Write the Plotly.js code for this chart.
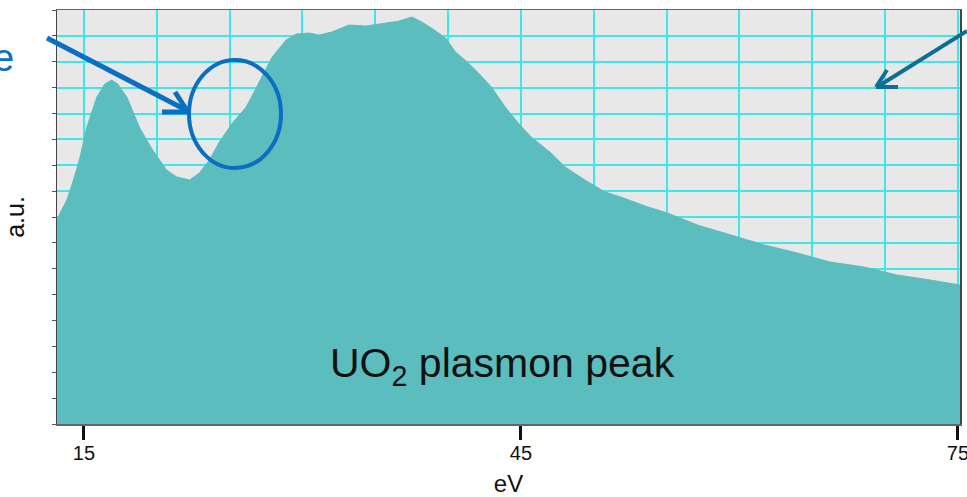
<!DOCTYPE html>
<html>
<head>
<meta charset="utf-8">
<script src="https://cdn.plot.ly/plotly-3.0.1.min.js"></script>
<style>html,body{margin:0;padding:0;background:#fff;}#chart{width:967px;height:497px;}</style>
</head>
<body>
<div id="chart"></div>
<script>
// Energy loss (eV) and intensity (a.u., in grid units)
var energy = [13.15, 13.36, 13.83, 14.24, 14.72, 15.2, 15.89, 16.43, 16.91, 17.32, 17.94, 18.83, 19.71, 20.67, 21.36, 22.25, 22.93, 23.61, 24.3, 25.19, 26.14, 27.03, 27.92, 28.88, 29.56, 30.45, 31.14, 32.02, 33.19, 34.35, 35.24, 36.61, 37.5, 38.18, 38.86, 39.82, 40.5, 41.39, 42.08, 42.97, 43.92, 44.81, 45.7, 47.07, 48.03, 49.39, 50.76, 51.86, 53.7, 55.07, 57.12, 59.38, 61.7, 63.96, 66.22, 68.54, 70.8, 73.06, 75.14];
var intensity = [7.88, 8.15, 8.66, 9.35, 10.28, 11.48, 12.64, 13.14, 13.29, 13.14, 12.64, 11.44, 10.59, 9.82, 9.55, 9.43, 9.7, 10.2, 10.9, 11.63, 12.25, 13.22, 14.18, 14.84, 15.07, 15.11, 15.03, 15.15, 15.42, 15.38, 15.46, 15.57, 15.73, 15.54, 15.3, 14.92, 14.38, 13.95, 13.57, 13.02, 12.25, 11.63, 11.09, 10.47, 9.93, 9.43, 8.97, 8.77, 8.39, 8.15, 7.69, 7.3, 6.92, 6.61, 6.26, 6.07, 5.76, 5.57, 5.37];
var tickValues = [15, 45, 75];
var tickLabels = ['15', '45', '75'];
var xRange = [13.15, 75.14];
var yRange = [0, 16];

var L = 57, R = 960, T = 10, B = 424, W = 967, H = 497;
function px(x) { return (x - L) / (R - L); }
function py(y) { return (B - y) / (B - T); }

var grid = '#3ee8e8';
var fillCol = '#5bbdbe';

var trace = {
  x: energy, y: intensity, type: 'scatter', mode: 'lines',
  line: {color: fillCol, width: 1}, fill: 'tozeroy', fillcolor: fillCol,
  hoverinfo: 'skip', showlegend: false
};

var blue = '#0a6fc2';
var teal = '#0c6f96';
var shapes = [
  {type: 'circle', xref: 'paper', yref: 'paper', x0: px(189), x1: px(281), y0: py(168), y1: py(60), line: {color: blue, width: 4}},
  {type: 'line', xref: 'paper', yref: 'paper', x0: px(47), y0: py(38), x1: px(186), y1: py(110), line: {color: blue, width: 5}},
  {type: 'line', xref: 'paper', yref: 'paper', x0: px(162), y0: py(112), x1: px(188), y1: py(112), line: {color: blue, width: 5}},
  {type: 'line', xref: 'paper', yref: 'paper', x0: px(175), y0: py(92), x1: px(188), y1: py(112), line: {color: blue, width: 5}},
  {type: 'line', xref: 'paper', yref: 'paper', x0: px(967), y0: py(31), x1: px(877), y1: py(87), line: {color: teal, width: 4}},
  {type: 'line', xref: 'paper', yref: 'paper', x0: px(876), y0: py(87), x1: px(898), y1: py(87), line: {color: teal, width: 4}},
  {type: 'line', xref: 'paper', yref: 'paper', x0: px(876), y0: py(87), x1: px(887), y1: py(70), line: {color: teal, width: 4}}
];

var annotations = [
  {text: 'UO<sub>2</sub> plasmon peak', xref: 'paper', yref: 'paper', x: px(502), y: py(366), showarrow: false,
   font: {family: 'Liberation Sans, Arial, sans-serif', size: 41, color: '#111'}, xanchor: 'center', yanchor: 'middle'},
  {text: 'e', xref: 'paper', yref: 'paper', x: px(16), y: py(58), showarrow: false,
   font: {family: 'Liberation Sans, Arial, sans-serif', size: 38, color: blue}, xanchor: 'right', yanchor: 'middle'}
];

var layout = {
  width: W, height: H,
  margin: {l: L, r: W - R, t: T, b: H - B, pad: 0},
  paper_bgcolor: '#ffffff', plot_bgcolor: '#e8e8e8',
  showlegend: false,
  font: {family: 'Liberation Sans, Arial, sans-serif', color: '#111'},
  xaxis: {
    range: xRange, tickmode: 'array', tickvals: tickValues, ticktext: tickLabels,
    ticks: 'outside', ticklen: 14, tickwidth: 3, tickcolor: '#111',
    tickfont: {size: 20, color: '#111'}, ticklabeloverflow: 'allow', ticklabelstandoff: -4,
    showgrid: true, gridcolor: grid, gridwidth: 2,
    minor: {dtick: 5, tick0: 0, showgrid: true, gridcolor: grid, gridwidth: 2, ticks: ''},
    showline: true, linecolor: '#666', linewidth: 1.5, mirror: true, zeroline: false,
    title: {text: 'eV', font: {size: 24, color: '#111'}, standoff: 14}
  },
  xaxis2: {
    range: xRange, overlaying: 'x', side: 'bottom', tickmode: 'array', tickvals: tickValues,
    ticks: 'inside', ticklen: 7, tickwidth: 3, tickcolor: '#111', showticklabels: false,
    showgrid: false, showline: false, zeroline: false
  },
  yaxis: {
    range: yRange, tick0: 0, dtick: 1, ticks: 'outside', ticklen: 4, tickwidth: 1, tickcolor: '#555',
    showticklabels: false, showgrid: true, gridcolor: grid, gridwidth: 2,
    showline: true, linecolor: '#444', linewidth: 1.5, mirror: true, zeroline: false,
    title: {text: 'a.u.', font: {size: 25, color: '#111'}, standoff: 20}
  },
  shapes: shapes,
  annotations: annotations
};

Plotly.newPlot('chart', [trace], layout, {displayModeBar: false, staticPlot: true});
</script>
</body>
</html>
